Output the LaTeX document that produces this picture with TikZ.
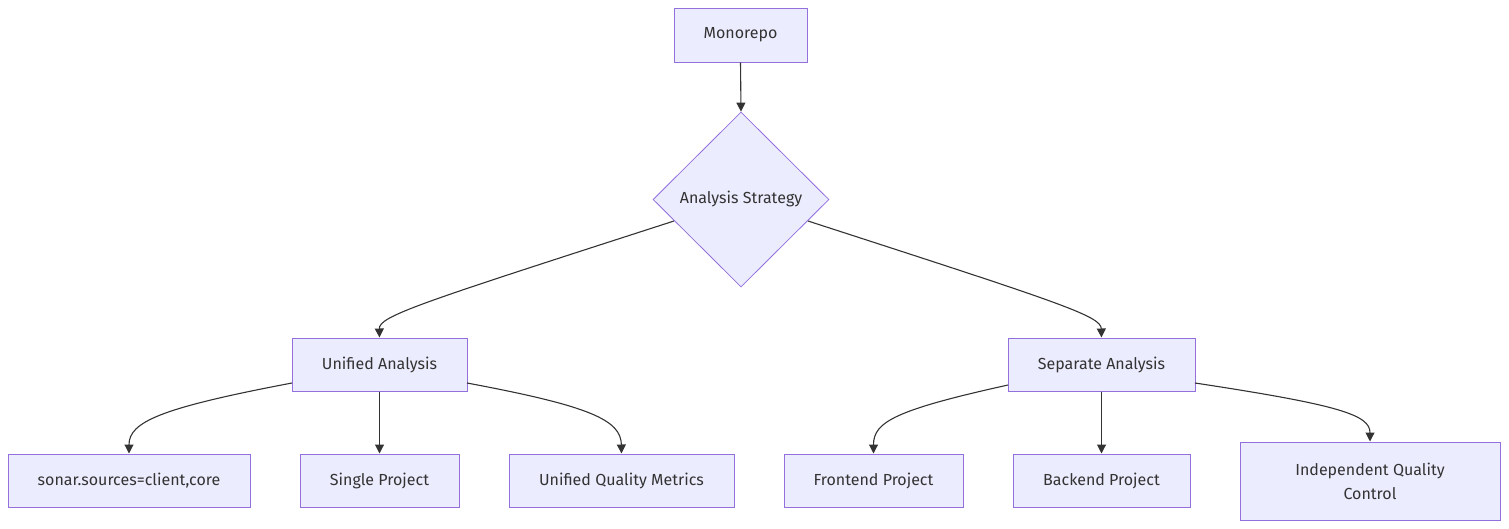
\documentclass[tikz,border=0pt]{standalone}
\usepackage{fontspec}
\setmainfont{Fira Sans}
\usetikzlibrary{shapes.geometric,arrows.meta}
\definecolor{nodefill}{HTML}{ECECFF}
\definecolor{nodeline}{HTML}{9370DB}
\definecolor{ink}{HTML}{333333}
\tikzset{
  box/.style={draw=nodeline, fill=nodefill, line width=1pt, inner sep=0pt, text=ink, font=\fontsize{16}{24}\selectfont, align=center},
  dia/.style={draw=nodeline, fill=nodefill, line width=0.8pt, diamond, inner sep=0pt, minimum width=176pt, minimum height=175pt, aspect=1, text=ink, font=\fontsize{16}{24}\selectfont},
  link/.style={draw=ink, line width=1.1pt, -{Triangle[length=9pt,width=9pt]}}
}
\begin{document}
\begin{tikzpicture}[x=1pt,y=-1pt]
\useasboundingbox (0,0) rectangle (1509,528);
\node[box, minimum width=133pt, minimum height=54pt] (mono) at (740.5,35) {Monorepo};
\node[dia] (strat) at (741,199.5) {};
\node[text=ink, font=\fontsize{16}{24}\selectfont] (stratlbl) at (741,199) {Analysis Strategy};
\node[box, minimum width=175pt, minimum height=53pt] (uni) at (379.5,364.5) {Unified Analysis};
\node[box, minimum width=187pt, minimum height=53pt] (sep) at (1101.5,364.5) {Separate Analysis};
\node[box, minimum width=242pt, minimum height=53pt] (sonar) at (129,480.5) {sonar.sources=client,core};
\node[box, minimum width=159pt, minimum height=53pt] (single) at (379.5,480.5) {Single Project};
\node[box, minimum width=225pt, minimum height=53pt] (uqm) at (621.5,480.5) {Unified Quality Metrics};
\node[box, minimum width=179pt, minimum height=53pt] (front) at (873.5,480.5) {Frontend Project};
\node[box, minimum width=177pt, minimum height=53pt] (back) at (1101.5,480.5) {Backend Project};
\node[box, minimum width=260pt, minimum height=78pt] (iqc) at (1370,481) {Independent Quality\\Control};

\coordinate (sl) at (674,221);
\coordinate (sr) at (808,221);
\coordinate (ul) at (292,383);
\coordinate (ur) at (467,383);
\coordinate (pl) at (1008,385);
\coordinate (pr) at (1195,383);

\draw[link] (mono.south) -- (strat.north);
\draw[link] (sl) .. controls (420,303) and (379,316) .. (uni.north);
\draw[link] (sr) .. controls (1061,303) and (1101,316) .. (sep.north);
\draw[link] (ul) .. controls (160,408) and (129,422) .. (sonar.north);
\draw[link] (uni.south) -- (single.north);
\draw[link] (ur) .. controls (590,406) and (621,420) .. (uqm.north);
\draw[link] (pl) .. controls (895,410) and (873.5,422) .. (front.north);
\draw[link] (sep.south) -- (back.north);
\draw[link] (pr) .. controls (1340,405) and (1370,415) .. (iqc.north);
\end{tikzpicture}
\end{document}
